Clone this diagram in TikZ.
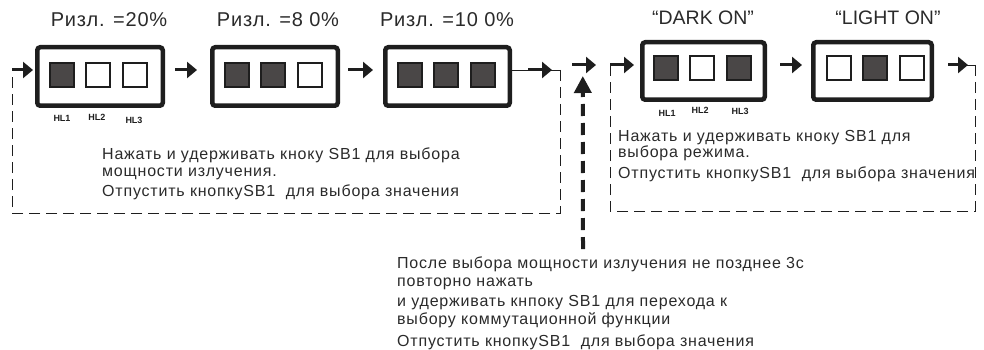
\documentclass[tikz,border=0pt]{standalone}
\usepackage{fontspec}
\setmainfont{Liberation Sans}
\newfontfamily\spacedfont[LetterSpace=5]{Liberation Sans}
\newfontfamily\ttlwide[LetterSpace=4]{Liberation Sans}
\usetikzlibrary{arrows.meta,calc}
\definecolor{ledgray}{HTML}{4A4747}
\definecolor{ink}{HTML}{1E1E1E}
\definecolor{txt}{HTML}{2A2A2A}
\tikzset{
  frame/.style={draw=ink, line width=4.5pt, rounded corners=3pt, minimum height=58.5pt, inner sep=0pt},
  led/.style={draw=ink, line width=2pt, minimum size=24pt, inner sep=0pt},
  ledon/.style={led, fill=ledgray},
  ledoff/.style={led, fill=white},
  flow/.style={draw=ink, line width=3pt, -{Triangle[length=10pt,width=16pt]}},
  thin/.style={draw=ink, line width=0.8pt},
  loopline/.style={draw=ink, line width=0.8pt, dash pattern=on 11pt off 6pt},
  bigdash/.style={draw=ink, line width=4pt, dash pattern=on 12pt off 7pt, -{Triangle[length=17pt,width=17pt]}},
  hl/.style={font=\bfseries\fontsize{9}{10}\selectfont, text=ink, inner sep=0pt},
  ttl/.style={font=\ttlwide\fontsize{20}{22}\selectfont, text=txt, inner sep=0pt, anchor=base},
  ttlq/.style={font=\fontsize{19.5}{21}\selectfont, text=txt, inner sep=0pt, anchor=base},
  body/.style={font=\spacedfont\fontsize{16}{18}\selectfont, text=txt, inner sep=0pt, anchor=base west},
}
\begin{document}
\begin{tikzpicture}[x=1pt,y=-1pt]
\useasboundingbox (0,0) rectangle (984,350);

% boxes
\node[frame, minimum width=125.5pt] (b1) at (100,76.5) {};
\node[frame, minimum width=125.5pt] (b2) at (275,76.5) {};
\node[frame, minimum width=124.5pt] (b3) at (447.5,76.5) {};
\node[frame, minimum width=122.5pt, minimum height=57.5pt] (b4) at (703.5,71) {};
\node[frame, minimum width=118.5pt, minimum height=57.5pt] (b5) at (872.5,71) {};

% LEDs
\node[ledon]  (l11) at ([xshift=-38pt,yshift=1.5pt]b1.center) {};
\node[ledoff] (l12) at ([xshift=-2pt,yshift=1.5pt]b1.center) {};
\node[ledoff] (l13) at ([xshift=35pt,yshift=1.5pt]b1.center) {};
\node[ledon]  (l21) at ([xshift=-38pt,yshift=1.5pt]b2.center) {};
\node[ledon]  (l22) at ([xshift=-2pt,yshift=1.5pt]b2.center) {};
\node[ledoff] (l23) at ([xshift=35pt,yshift=1.5pt]b2.center) {};
\node[ledon]  (l31) at ([xshift=-38pt,yshift=1.5pt]b3.center) {};
\node[ledon]  (l32) at ([xshift=-2pt,yshift=1.5pt]b3.center) {};
\node[ledon]  (l33) at ([xshift=35pt,yshift=1.5pt]b3.center) {};
\node[ledon]  (l41) at ([xshift=-38pt,yshift=3pt]b4.center) {};
\node[ledoff] (l42) at ([xshift=-2pt,yshift=3pt]b4.center) {};
\node[ledon]  (l43) at ([xshift=35pt,yshift=3pt]b4.center) {};
\node[ledoff] (l51) at ([xshift=-34pt,yshift=3pt]b5.center) {};
\node[ledon]  (l52) at ([xshift=2pt,yshift=3pt]b5.center) {};
\node[ledoff] (l53) at ([xshift=39pt,yshift=3pt]b5.center) {};

% HL labels
\node[hl] (h11) at (62,118) {HL1};
\node[hl] (h12) at (97,117) {HL2};
\node[hl] (h13) at (134,120) {HL3};
\node[hl] (h41) at (667,113) {HL1};
\node[hl] (h42) at (700,110) {HL2};
\node[hl] (h43) at (740,111) {HL3};

% titles
\node[ttl] (t1) at (109,27) {Ризл. =20\%};
\node[ttl] (t2) at (278,27) {Ризл. =8 0\%};
\node[ttl] (t3) at (447,27) {Ризл. =10 0\%};
\node[ttlq] (t4) at (703,25) {“DARK ON”};
\node[ttlq] (t5) at (888,25) {“LIGHT ON”};

% loop corners
\coordinate (lTL) at (12,70);
\coordinate (lTR) at (560,70);
\coordinate (lBR) at (560,213);
\coordinate (lBL) at (12,213);
\coordinate (rTL) at (610,65);
\coordinate (rTR) at (975,65);
\coordinate (rBR) at (975,211);
\coordinate (rBL) at (610,211);

% dashed loops
\draw[loopline] (lTR) -- (lBR) -- (lBL) -- (lTL);
\draw[loopline] (rTR) -- (rBR) -- (rBL) -- (rTL);

% left row arrows
\draw[flow] (lTL) -- ([xshift=-2pt,yshift=6.5pt]b1.west);
\draw[flow] ([xshift=10pt,yshift=6.5pt]b1.east) -- ([xshift=-13pt,yshift=6.5pt]b2.west);
\draw[flow] ([xshift=8pt,yshift=6.5pt]b2.east) -- ([xshift=-10pt,yshift=6.5pt]b3.west);
\draw[thin] ([yshift=6.5pt]b3.east) -- (lTR);
\draw[flow] ([xshift=16pt,yshift=6.5pt]b3.east) -- ([xshift=-8pt]lTR);

% middle arrows
\coordinate (mA) at (572,65);
\coordinate (mB) at (596,65);
\draw[flow] (mA) -- (mB);
\coordinate (vS) at (583,249);
\draw[bigdash] (vS) -- ([yshift=-11pt]$(mA)!0.45!(mB)$);

% right row arrows
\draw[flow] (rTL) -- ([xshift=-6pt,yshift=6pt]b4.west);
\draw[flow] ([xshift=13pt,yshift=6pt]b4.east) -- ([xshift=-9pt,yshift=6pt]b5.west);
\draw[thin] ([xshift=30pt,yshift=6pt]b5.east) -- (rTR);
\draw[flow] ([xshift=14pt,yshift=6pt]b5.east) -- ([xshift=-7pt]rTR);

% texts
\node[body] (a1) at (102,159) {Нажать и удерживать кноку SB1 для выбора};
\node[body] (a2) at (102,176) {мощности излучения.};
\node[body] (a3) at (102,196) {Отпустить кнопку{}SB1\ \ для выбора значения};

\node[body] (c1) at (618,141) {Нажать и удерживать кноку SB1 для};
\node[body] (c2) at (618,157) {выбора режима.};
\node[body] (c3) at (618,178) {Отпустить кнопку{}SB1\ \ для выбора значения};

\node[body] (m1) at (397,268) {После выбора мощности излучения не позднее 3с};
\node[body] (m2) at (397,286) {повторно нажать};
\node[body] (m3) at (397,306) {и удерживать кнпоку SB1 для перехода к};
\node[body] (m4) at (397,324) {выбору коммутационной функции};
\node[body] (m5) at (397,346) {Отпустить кнопку{}SB1\ \ для выбора значения};
\end{tikzpicture}
\end{document}
